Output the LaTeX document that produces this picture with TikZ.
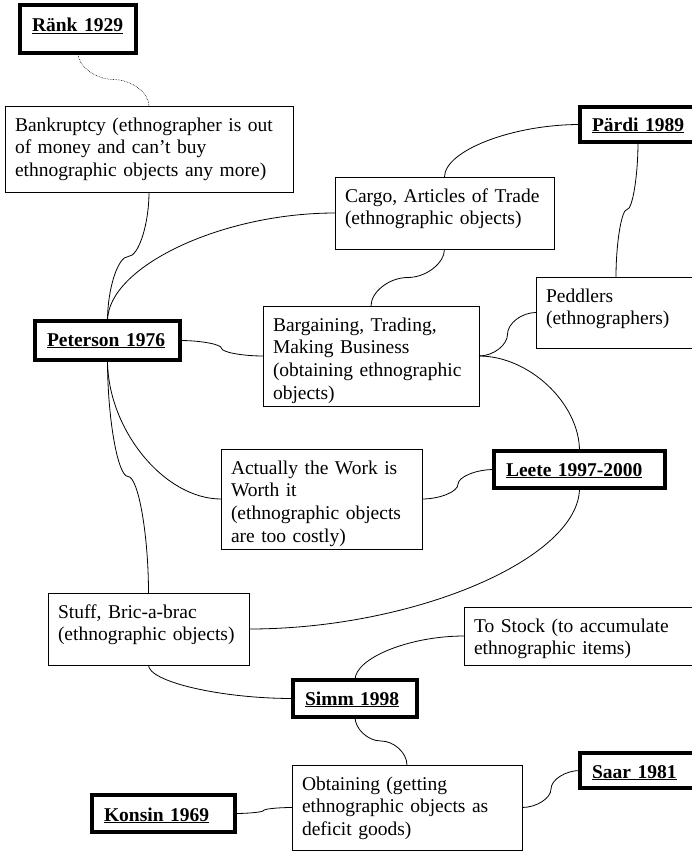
\documentclass[tikz,border=0pt]{standalone}
\usepackage{fontspec}
\setmainfont{Liberation Serif}
\usetikzlibrary{calc}

\tikzset{
  box/.style={draw, line width=0.8pt, anchor=north west, align=left, outer sep=0pt,
    inner xsep=10pt, inner ysep=0pt, text height=25pt,
    font=\fontsize{19.5}{22.8}\selectfont},
  who/.style={box, line width=3.6pt, inner xsep=12pt,
    font=\fontsize{19.5}{22.8}\selectfont\bfseries},
  link/.style={line width=0.8pt},
  % curved connectors: vertical/horizontal ends, bend in the middle
  vS/.style={to path={let \p1=(\tikztostart), \p2=(\tikztotarget) in
    .. controls (\x1,{(3*\y1+\y2)/4}) and ({(3*\x1+\x2)/4},{(\y1+\y2)/2})
    .. ({(\x1+\x2)/2},{(\y1+\y2)/2})
    .. controls ({(\x1+3*\x2)/4},{(\y1+\y2)/2}) and (\x2,{(\y1+3*\y2)/4})
    .. (\tikztotarget)}},
  hS/.style={to path={let \p1=(\tikztostart), \p2=(\tikztotarget) in
    .. controls ({(3*\x1+\x2)/4},\y1) and ({(\x1+\x2)/2},{(3*\y1+\y2)/4})
    .. ({(\x1+\x2)/2},{(\y1+\y2)/2})
    .. controls ({(\x1+\x2)/2},{(\y1+3*\y2)/4}) and ({(\x1+3*\x2)/4},\y2)
    .. (\tikztotarget)}},
  vH/.style={to path={let \p1=(\tikztostart), \p2=(\tikztotarget) in
    .. controls (\x1,{(\y1+\y2)/2}) and ({(\x1+\x2)/2},\y2) .. (\tikztotarget)}},
  hV/.style={to path={let \p1=(\tikztostart), \p2=(\tikztotarget) in
    .. controls ({(\x1+\x2)/2},\y1) and (\x2,{(\y1+\y2)/2}) .. (\tikztotarget)}}
}

\begin{document}
\begin{tikzpicture}[x=1pt,y=1pt]
  \useasboundingbox (0,0) rectangle (692,-851);

  % authors
  \node[who, text width=92pt, text height=27pt, text depth=21pt] (raenk) at (20,-5) {\underline{Ränk 1929}};
  \node[who, text width=92pt, text height=24pt, text depth=11pt] (paerdi) at (580,-107) {\underline{Pärdi 1989}};
  \node[who, text width=121pt, text depth=14pt] (peterson) at (35,-321) {\underline{Peterson 1976}};
  \node[who, text width=147pt, text depth=12pt] (leete) at (494,-451) {\underline{Leete 1997-2000}};
  \node[who, text width=100pt, text depth=12pt] (simm) at (293,-680) {\underline{Simm 1998}};
  \node[who, text width=119pt, text height=26pt, text depth=11pt] (konsin) at (92,-795) {\underline{Konsin 1969}};
  \node[who, text width=96pt, text depth=10pt] (saar) at (580,-753) {\underline{Saar 1981}};

  % notions
  \node[box, text width=268pt, text depth=61pt] (bank) at (5,-106)
    {Bankruptcy (ethnographer is out\\of money and can’t buy\\ethnographic objects any more)};
  \node[box, text width=199pt, text depth=47pt] (cargo) at (335,-177)
    {Cargo, Articles of Trade\\(ethnographic objects)};
  \node[box, text width=140pt, text depth=46pt] (peddlers) at (536,-277)
    {Peddlers\\(ethnographers)};
  \node[box, text width=196pt, text depth=75pt] (barg) at (263,-306)
    {Bargaining, Trading,\\Making Business\\(obtaining ethnographic\\objects)};
  \node[box, text width=181pt, text depth=75pt] (actually) at (221,-449)
    {Actually the Work is\\Worth it\\(ethnographic objects\\are too costly)};
  \node[box, text width=181pt, text depth=47pt] (stuff) at (48,-593)
    {Stuff, Bric-a-brac\\(ethnographic objects)};
  \node[box, text width=216pt, text depth=33pt] (tostock) at (464,-607)
    {To Stock (to accumulate\\ethnographic items)};
  \node[box, text width=210pt, text depth=60pt] (obtaining) at (292,-765)
    {Obtaining (getting\\ethnographic objects as\\deficit goods)};

  % connectors
  \draw[line width=0.6pt, densely dotted, vS] (raenk.south) to (bank.north);
  \draw[link, vS] (bank.south) to (peterson.north);
  \draw[link, vH] (peterson.north) to (cargo.west);
  \draw[link, hS] (peterson.east) to (barg.west);
  \draw[link, vH] (peterson.south) to (actually.west);
  \draw[link, vS] (peterson.south) to (stuff.north);
  \draw[link, vH] (cargo.north) to (paerdi.west);
  \draw[link, vS] (cargo.south) to (barg.north);
  \draw[link, vS] (paerdi.south) to (peddlers.north);
  \draw[link, hS] (barg.east) to (peddlers.west);
  \draw[link, hV] (barg.east) to (leete.north);
  \draw[link, hS] (leete.west) to (actually.east);
  \draw[link, vH] (leete.south) to (stuff.east);
  \draw[link, vH] (stuff.south) to (simm.west);
  \draw[link, vH] (simm.north) to (tostock.west);
  \draw[link, vS] (simm.south) to (obtaining.north);
  \draw[link, hS] (konsin.east) to (obtaining.west);
  \draw[link, hS] (obtaining.east) to (saar.west);
\end{tikzpicture}
\end{document}
